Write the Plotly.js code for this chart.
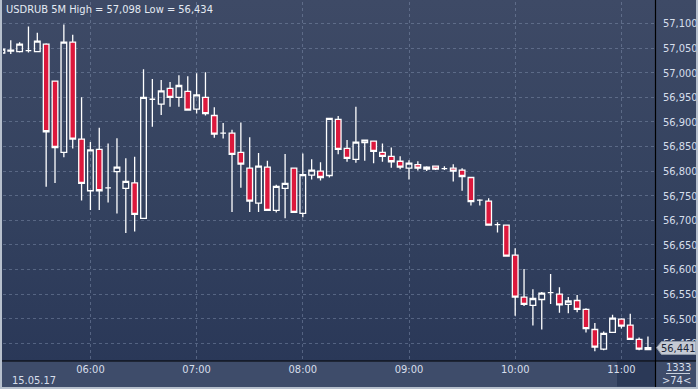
<!DOCTYPE html>
<html>
<head>
<meta charset="utf-8">
<script src="https://cdn.plot.ly/plotly-3.0.1.min.js"></script>
<style>
  html, body { margin: 0; padding: 0; background: #2c3a5a; }
  #wrap { position: relative; width: 698px; height: 389px; overflow: hidden; }
  #chart { position: absolute; left: 0; top: 0; width: 698px; height: 389px;
           background: linear-gradient(to bottom, #3e4a66 0%, #34425f 50%, #2a3858 93%, #2a3858 100%); }
  #frame { position: absolute; left: 0; top: 0; width: 698px; height: 389px; box-sizing: border-box;
           border-left: 2px solid #b7c0cd; border-right: 2px solid #b7c0cd; border-bottom: 2px solid #b7c0cd;
           pointer-events: none; }
</style>
</head>
<body>
<div id="wrap"><div id="chart"></div><div id="frame"></div></div>
<script>
const day = '2017-05-15';
const times = ['05:10','05:15','05:20','05:25','05:30','05:35','05:40','05:45','05:50','05:55',
  '06:00','06:05','06:10','06:15','06:20','06:25','06:30','06:35','06:40','06:45','06:50','06:55',
  '07:00','07:05','07:10','07:15','07:20','07:25','07:30','07:35','07:40','07:45','07:50','07:55',
  '08:00','08:05','08:10','08:15','08:20','08:25','08:30','08:35','08:40','08:45','08:50','08:55',
  '09:00','09:05','09:10','09:15','09:20','09:25','09:30','09:35','09:40','09:45','09:50','09:55',
  '10:00','10:05','10:10','10:15','10:20','10:25','10:30','10:35','10:40','10:45','10:50','10:55',
  '11:00','11:05','11:10','11:15'];
const openV = [57.040,57.044,57.043,57.045,57.043,57.058,56.983,56.838,57.062,56.865,
  56.760,56.844,56.766,56.799,56.765,56.776,56.704,56.946,56.936,56.968,56.950,56.962,
  56.926,56.950,56.913,56.877,56.877,56.838,56.806,56.735,56.808,56.720,56.765,56.806,
  56.714,56.792,56.800,56.791,56.905,56.846,56.824,56.858,56.861,56.838,56.830,56.820,
  56.806,56.813,56.804,56.810,56.805,56.806,56.802,56.787,56.741,56.739,56.691,56.690,
  56.629,56.544,56.527,56.539,56.553,56.550,56.529,56.537,56.519,56.478,56.438,56.472,
  56.499,56.487,56.458,56.437];
const highV = [57.050,57.066,57.062,57.094,57.081,57.060,56.984,57.098,57.077,56.950,
  56.859,56.888,56.856,56.867,56.826,56.829,57.007,56.987,56.985,56.981,56.995,56.993,
  56.999,57.001,56.930,56.898,56.884,56.899,56.869,56.837,56.821,56.772,56.835,56.806,
  56.836,56.824,56.818,56.907,56.912,56.863,56.931,56.863,56.861,56.856,56.848,56.830,
  56.822,56.820,56.810,56.810,56.810,56.814,56.806,56.787,56.743,56.745,56.696,56.690,
  56.643,56.601,56.560,56.554,56.591,56.564,56.544,56.548,56.521,56.491,56.474,56.508,
  56.501,56.510,56.462,56.464];
const lowV = [57.038,57.038,57.041,57.041,57.043,56.768,56.776,56.828,56.846,56.740,
  56.721,56.721,56.736,56.714,56.674,56.677,56.704,56.890,56.914,56.931,56.931,56.924,
  56.917,56.913,56.868,56.866,56.717,56.766,56.717,56.717,56.720,56.716,56.704,56.716,
  56.706,56.783,56.781,56.787,56.834,56.819,56.817,56.821,56.816,56.819,56.807,56.804,
  56.783,56.801,56.800,56.802,56.802,56.779,56.760,56.730,56.730,56.690,56.675,56.627,
  56.506,56.526,56.486,56.478,56.530,56.512,56.511,56.513,56.472,56.434,56.436,56.472,
  56.480,56.458,56.436,56.436];
const closeV = [57.048,57.046,57.058,57.045,57.064,56.880,56.848,57.062,56.865,56.775,
  56.843,56.760,56.766,56.808,56.779,56.712,56.950,56.946,56.963,56.950,56.974,56.924,
  56.955,56.917,56.875,56.877,56.834,56.814,56.739,56.810,56.720,56.769,56.775,56.716,
  56.793,56.802,56.787,56.907,56.844,56.826,56.859,56.863,56.840,56.830,56.819,56.808,
  56.816,56.806,56.808,56.804,56.805,56.800,56.789,56.738,56.741,56.690,56.691,56.627,
  56.544,56.529,56.541,56.552,56.553,56.528,56.536,56.519,56.480,56.442,56.470,56.501,
  56.485,56.458,56.438,56.441];
const titleText = 'USDRUB 5M High = 57,098 Low = 56,434';
const dateLabel = '15.05.17';
const lastPrice = '56,441';
const barCount = '1333';
const visibleCount = '>74<';

const FONT = '"Liberation Sans Narrow", "Arial Narrow", "DejaVu Sans Condensed", "Liberation Sans", Arial, sans-serif';
const TXT = '#d6deeb';
const x = times.map(t => day + ' ' + t);

// pixel helpers for paper coordinates (plot area: x 3..655, y 2..361)
const L = 3, R = 655, T = 2, B = 361;
const px = v => (v - L) / (R - L);
const py = v => (B - v) / (B - T);

const trace = {
  type: 'candlestick',
  x: x, open: openV, high: highV, low: lowV, close: closeV,
  increasing: { line: { color: '#ffffff', width: 1.3 }, fillcolor: 'rgba(0,0,0,0)' },
  decreasing: { line: { color: '#ffffff', width: 1.3 }, fillcolor: '#dc183c' },
  whiskerwidth: 0,
  hoverinfo: 'skip'
};

const layout = {
  width: 698, height: 389,
  margin: { l: L, r: 698 - R, t: T, b: 389 - B, pad: 0 },
  paper_bgcolor: 'rgba(0,0,0,0)',
  plot_bgcolor: 'rgba(0,0,0,0)',
  separators: ',.',
  showlegend: false,
  boxgap: 0.22, boxgroupgap: 0.18,
  font: { family: FONT, size: 11, color: TXT },
  xaxis: {
    type: 'date',
    range: ['2017-05-15 05:10:37', '2017-05-15 11:18:59'],
    rangeslider: { visible: false },
    tickformat: '%H:%M',
    tickvals: ['2017-05-15 06:00','2017-05-15 07:00','2017-05-15 08:00','2017-05-15 09:00','2017-05-15 10:00','2017-05-15 11:00'],
    showgrid: true, gridcolor: 'rgba(135,150,180,0.45)', gridwidth: 1, griddash: '3px,3px',
    showline: false, zeroline: false, ticks: '',
    tickfont: { family: FONT, size: 11, color: TXT },
    ticklabelstandoff: 0,
    fixedrange: true
  },
  yaxis: {
    side: 'right',
    range: [56.4140, 57.1437],
    dtick: 0.05, tick0: 56.45,
    tickformat: '.3f',
    showgrid: true, gridcolor: 'rgba(135,150,180,0.45)', gridwidth: 1, griddash: '3px,3px',
    showline: false, zeroline: false, ticks: '',
    tickfont: { family: FONT, size: 11, color: TXT },
    ticklabelstandoff: 7,
    fixedrange: true
  },
  shapes: [
    // bottom time band
    { type: 'rect', xref: 'paper', yref: 'paper', x0: px(-5), x1: px(705), y0: py(395), y1: py(361), fillcolor: '#3e4c6a', line: { width: 0 }, layer: 'below' },
    // dark scroll box behind the last hour label
    { type: 'rect', xref: 'paper', yref: 'paper', x0: px(617), x1: px(655), y0: py(386.5), y1: py(361.5), fillcolor: '#2b3957', line: { width: 0 }, layer: 'below' },
    // black separators
    { type: 'line', xref: 'paper', yref: 'paper', x0: px(0), x1: px(698), y0: py(361), y1: py(361), line: { color: '#000000', width: 1.2 } },
    { type: 'line', xref: 'paper', yref: 'paper', x0: px(655.5), x1: px(655.5), y0: py(0), y1: py(389), line: { color: '#000000', width: 1.2 } },
    // divider under bar count
    { type: 'line', xref: 'paper', yref: 'paper', x0: px(666), x1: px(690), y0: py(373.5), y1: py(373.5), line: { color: '#c8d0dc', width: 1 } },
    // last price tag
    { type: 'path', xref: 'paper', yref: 'paper',
      path: 'M ' + px(656.5) + ' ' + py(347.7) + ' L ' + px(661.5) + ' ' + py(341.5) + ' L ' + px(696) + ' ' + py(341.5) +
            ' L ' + px(696) + ' ' + py(354.5) + ' L ' + px(661.5) + ' ' + py(354.5) + ' Z',
      fillcolor: '#c4cad4', line: { color: '#8f99a8', width: 1 }, layer: 'above' }
  ],
  annotations: [
    { text: titleText, xref: 'paper', yref: 'paper', x: px(4), y: py(9), xanchor: 'left', yanchor: 'middle',
      showarrow: false, font: { family: FONT, size: 11, color: '#e4eaf3' } },
    { text: dateLabel, xref: 'paper', yref: 'paper', x: px(33.5), y: py(380), xanchor: 'center', yanchor: 'middle',
      showarrow: false, font: { family: FONT, size: 11, color: TXT } },
    { text: lastPrice, xref: 'paper', yref: 'paper', x: px(678.5), y: py(348), xanchor: 'center', yanchor: 'middle',
      showarrow: false, font: { family: FONT, size: 11, color: '#1c2638' } },
    { text: barCount, xref: 'paper', yref: 'paper', x: px(678.5), y: py(367), xanchor: 'center', yanchor: 'middle',
      showarrow: false, font: { family: FONT, size: 11, color: TXT } },
    { text: visibleCount, xref: 'paper', yref: 'paper', x: px(676.5), y: py(380.5), xanchor: 'center', yanchor: 'middle',
      showarrow: false, font: { family: FONT, size: 11, color: TXT } }
  ]
};

Plotly.newPlot('chart', [trace], layout, { staticPlot: true, displayModeBar: false });
</script>
</body>
</html>
